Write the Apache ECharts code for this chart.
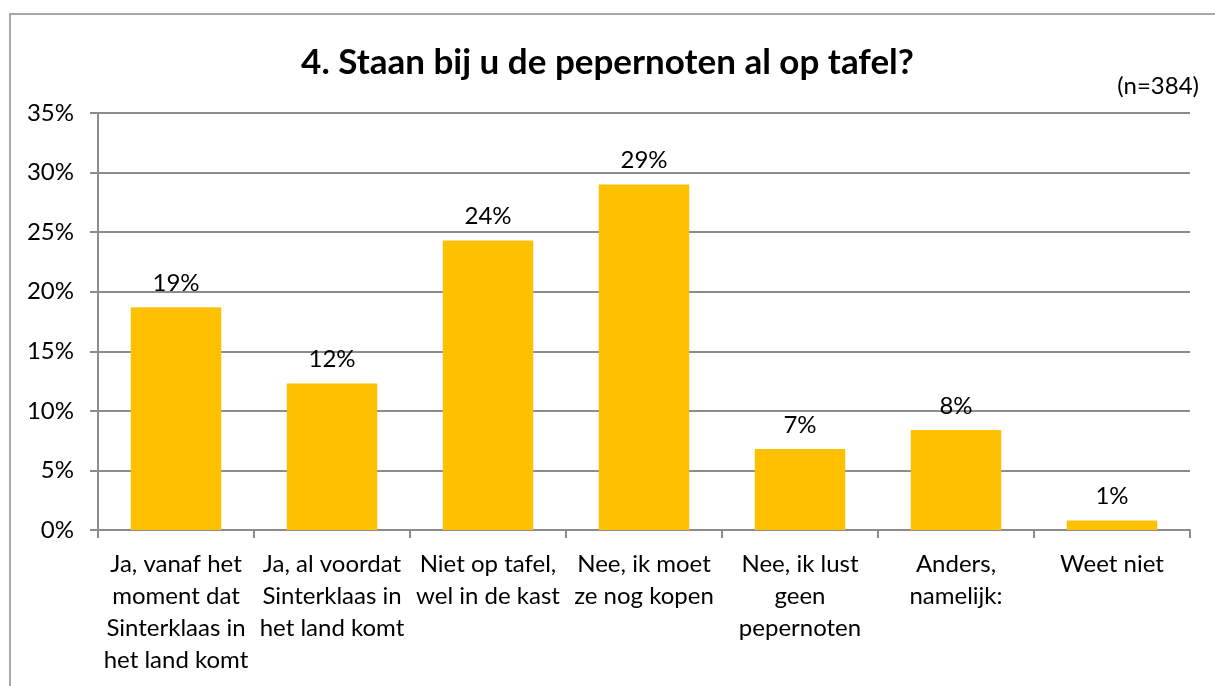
<!DOCTYPE html>
<html lang="nl">
<head>
	<meta charset="UTF-8">
	<title>Pepernoten</title>
	<script src="https://cdn.jsdelivr.net/npm/echarts@6/dist/echarts.min.js"></script>
	<style>
		html, body { margin: 0; padding: 0; background: #fff; }
	</style>
</head>
<body>
	<div id="main" style="width: 1215px;height:686px;"></div>
<script type="text/javascript">
var categories = [
	'Ja, vanaf het\nmoment dat\nSinterklaas in\nhet land komt',
	'Ja, al voordat\nSinterklaas in\nhet land komt',
	'Niet op tafel,\nwel in de kast',
	'Nee, ik moet\nze nog kopen',
	'Nee, ik lust\ngeen\npepernoten',
	'Anders,\nnamelijk:',
	'Weet niet'
];
var values = [18.7, 12.3, 24.3, 29.0, 6.8, 8.4, 0.8];
var yTicks = [0, 5, 10, 15, 20, 25, 30, 35];

var font = 'Lato, "Open Sans", sans-serif';
var grey = '#8c8c8c';

var mychart = echarts.init(document.getElementById('main'));

var option = {
	animation: false,
	textStyle: { fontFamily: font },
	title: {
		text: '4. Staan bij u de pepernoten al op tafel?',
		left: 'center',
		top: 40,
		textStyle: { fontFamily: font, fontSize: 35, fontWeight: 'bold', color: '#000' }
	},
	graphic: [
		{ type: 'rect', shape: { x: 10, y: 14, width: 1400, height: 900 }, style: { fill: 'none', stroke: grey, lineWidth: 1.5 } },
		{ type: 'text', right: 16, top: 74, style: { text: '(n=384)', font: '24px ' + font, fill: '#000' } }
	],
	grid: { left: 98, right: 25, top: 113, bottom: 156 },
	xAxis: {
		type: 'category',
		data: categories,
		axisLine: { lineStyle: { color: grey, width: 2 } },
		axisTick: { show: true, length: 8, lineStyle: { color: grey, width: 2 } },
		axisLabel: { color: '#000', fontSize: 24, lineHeight: 32, margin: 18, interval: 0, fontFamily: font }
	},
	yAxis: {
		type: 'value',
		min: yTicks[0],
		max: yTicks[yTicks.length - 1],
		interval: 5,
		axisLine: { show: true, lineStyle: { color: grey, width: 2 } },
		axisTick: { show: true, length: 8, lineStyle: { color: grey, width: 2 } },
		splitLine: { lineStyle: { color: grey, width: 2 } },
		axisLabel: { color: '#000', fontSize: 24, margin: 24, fontFamily: font, formatter: '{value}%' }
	},
	series: [{
		type: 'bar',
		data: values,
		barWidth: '58%',
		itemStyle: { color: '#FFC000' },
		label: {
			show: true,
			position: 'top',
			distance: 12,
			color: '#000',
			fontSize: 24,
			fontFamily: font,
			formatter: function (p) { return Math.round(p.value) + '%'; }
		}
	}]
};
mychart.setOption(option);
</script>
</body>
</html>
